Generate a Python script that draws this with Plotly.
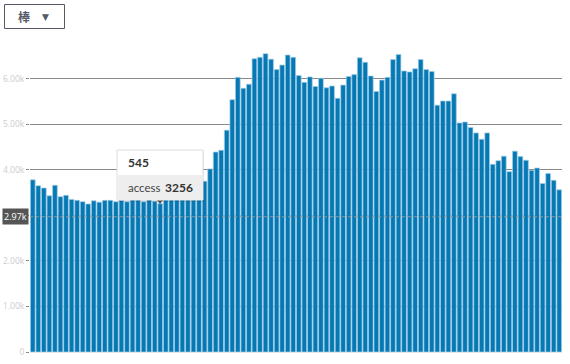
import plotly.graph_objects as go

categories = [str(c) for c in [
    522, 523, 524, 525, 526, 527, 528, 529, 530, 531, 532, 533, 534, 535, 536, 537,
    538, 539, 540, 541, 542, 543, 544, 545, 546, 547, 548, 549, 550, 551, 552, 553,
    554, 555, 556, 557, 558, 559, 560, 561, 562, 563, 564, 565, 566, 567, 568, 569,
    570, 571, 572, 573, 574, 575, 576, 577, 578, 579, 580, 581, 582, 583, 584, 585,
    586, 587, 588, 589, 590, 591, 592, 593, 594, 595, 596, 597, 598, 599, 600, 601,
    602, 603, 604, 605, 606, 607, 608, 609, 610, 611, 612, 613, 614, 615, 616, 617]]

access = [
    3780, 3650, 3600, 3430, 3660, 3410, 3440, 3350, 3330, 3300, 3250, 3320, 3290, 3330, 3330, 3300,
    3330, 3300, 3370, 3360, 3300, 3380, 3310, 3256, 3400, 3420, 3450, 3480, 3550, 3620, 3720, 3750,
    4020, 4390, 4430, 4870, 5540, 6030, 5790, 5880, 6440, 6470, 6550, 6430, 6200, 6300, 6520, 6470,
    6070, 5920, 6040, 5830, 6010, 5800, 5840, 5570, 5860, 6050, 6090, 6460, 6360, 6060, 5720, 5970,
    6030, 6420, 6530, 6170, 6150, 6220, 6420, 6200, 6160, 5420, 5510, 5510, 5670, 5030, 5050, 4930,
    4810, 4670, 4810, 4120, 4200, 4300, 3960, 4410, 4290, 4210, 3990, 4040, 3700, 3920, 3770, 3560]

tick_vals = [0, 1000, 2000, 3000, 4000, 5000, 6000]
tick_text = ["0", "1.00k", "2.00k", "", "4.00k", "5.00k", "6.00k"]

hover_category = "545"
hover_value = 3256
crosshair_value = 2970
crosshair_label = "2.97k"
series_name = "access"
menu_label = "棒"

W, H = 570, 364
ML, MR, MT, MB = 30, 8, 40, 12
PW, PH = W - ML - MR, H - MT - MB
Y_MAX = 6850


def px(x):
    return (x - ML) / PW


def py(y):
    return (H - MB - y) / PH


FONT = "Open Sans, Lato, sans-serif"
TIPFONT = "Lato, Open Sans, sans-serif"

fig = go.Figure()
fig.add_trace(go.Bar(
    x=categories, y=access, name=series_name,
    marker=dict(color="#0679b4", line=dict(color="rgba(160,205,230,0.9)", width=0.8)),
    hoverinfo="skip",
))

shapes = []
annotations = []

# crosshair dotted line
shapes.append(dict(type="line", xref="paper", yref="y", x0=0, x1=1,
                   y0=crosshair_value, y1=crosshair_value,
                   line=dict(color="rgba(150,150,150,0.9)", width=1, dash="dot"), layer="above"))
annotations.append(dict(xref="paper", yref="y", x=0, y=crosshair_value, xanchor="right",
                        yanchor="middle", text=crosshair_label, showarrow=False,
                        font=dict(family=FONT, size=9, color="white"),
                        bgcolor="#555555", borderpad=1, xshift=-1))

# tooltip box
tx0, tx1, ty0, ty1, tmid = 117, 203, 150, 200, 175
shapes.append(dict(type="rect", xref="paper", yref="paper", x0=px(tx0 + 1), x1=px(tx1 + 1),
                   y0=py(ty1 + 2), y1=py(ty0 + 1), line=dict(width=0),
                   fillcolor="rgba(0,0,0,0.08)", layer="above"))
shapes.append(dict(type="rect", xref="paper", yref="paper", x0=px(tx0), x1=px(tx1),
                   y0=py(ty1), y1=py(ty0), line=dict(color="#dddddd", width=1),
                   fillcolor="white", layer="above"))
shapes.append(dict(type="rect", xref="paper", yref="paper", x0=px(tx0 + 0.5), x1=px(tx1 - 0.5),
                   y0=py(ty1 - 0.5), y1=py(tmid), line=dict(width=0),
                   fillcolor="#eeeeee", layer="above"))
shapes.append(dict(type="path", xref="paper", yref="paper",
                   path="M {} {} L {} {} L {} {} Z".format(px(157), py(ty1 + 0.5), px(163), py(ty1 + 0.5),
                                                          px(160), py(ty1 + 4)),
                   fillcolor="#555555", line=dict(width=0), layer="above"))
annotations.append(dict(xref="paper", yref="paper", x=px(126), y=py(162), xanchor="left",
                        yanchor="middle", text="<b>" + hover_category + "</b>", showarrow=False,
                        font=dict(family=TIPFONT, size=12, color="#333333")))
annotations.append(dict(xref="paper", yref="paper", x=px(126), y=py(187), xanchor="left",
                        yanchor="middle", text=series_name, showarrow=False,
                        font=dict(family=TIPFONT, size=11.5, color="#444444")))
annotations.append(dict(xref="paper", yref="paper", x=px(195), y=py(187), xanchor="right",
                        yanchor="middle", text="<b>" + str(hover_value) + "</b>", showarrow=False,
                        font=dict(family=TIPFONT, size=12, color="#333333")))

# dropdown-like button
shapes.append(dict(type="rect", xref="paper", yref="paper", x0=px(4.5), x1=px(64.5),
                   y0=py(28.5), y1=py(4.5), line=dict(color="#555a66", width=1),
                   fillcolor="white", layer="above"))
annotations.append(dict(xref="paper", yref="paper", x=px(24), y=py(16.5), xanchor="center",
                        yanchor="middle", text="<b>" + menu_label + "</b>", showarrow=False,
                        font=dict(family="Noto Sans CJK JP", size=12, color="#555a66")))
annotations.append(dict(xref="paper", yref="paper", x=px(45), y=py(16.5), xanchor="center",
                        yanchor="middle", text="▼", showarrow=False,
                        font=dict(family="DejaVu Sans", size=9, color="#555a66")))

fig.update_layout(
    width=W, height=H,
    margin=dict(l=ML, r=MR, t=MT, b=MB, pad=0, autoexpand=False),
    paper_bgcolor="white", plot_bgcolor="white",
    bargap=0.15,
    showlegend=False,
    shapes=shapes,
    annotations=annotations,
    xaxis=dict(showticklabels=False, showgrid=False, zeroline=False, ticks="",
               showline=True, linecolor="#e6e6e6", linewidth=1, automargin=False,
               range=[-0.5, len(categories) - 0.5]),
    yaxis=dict(range=[0, Y_MAX], tickvals=tick_vals, ticktext=tick_text, automargin=False,
               showgrid=True, gridcolor="#888888", gridwidth=1, zeroline=False,
               ticks="outside", ticklen=3, tickcolor="#888888",
               tickfont=dict(family=FONT, size=8.5, color="#cccccc")),
    font=dict(family=FONT),
)

fig.write_html("out.html")
